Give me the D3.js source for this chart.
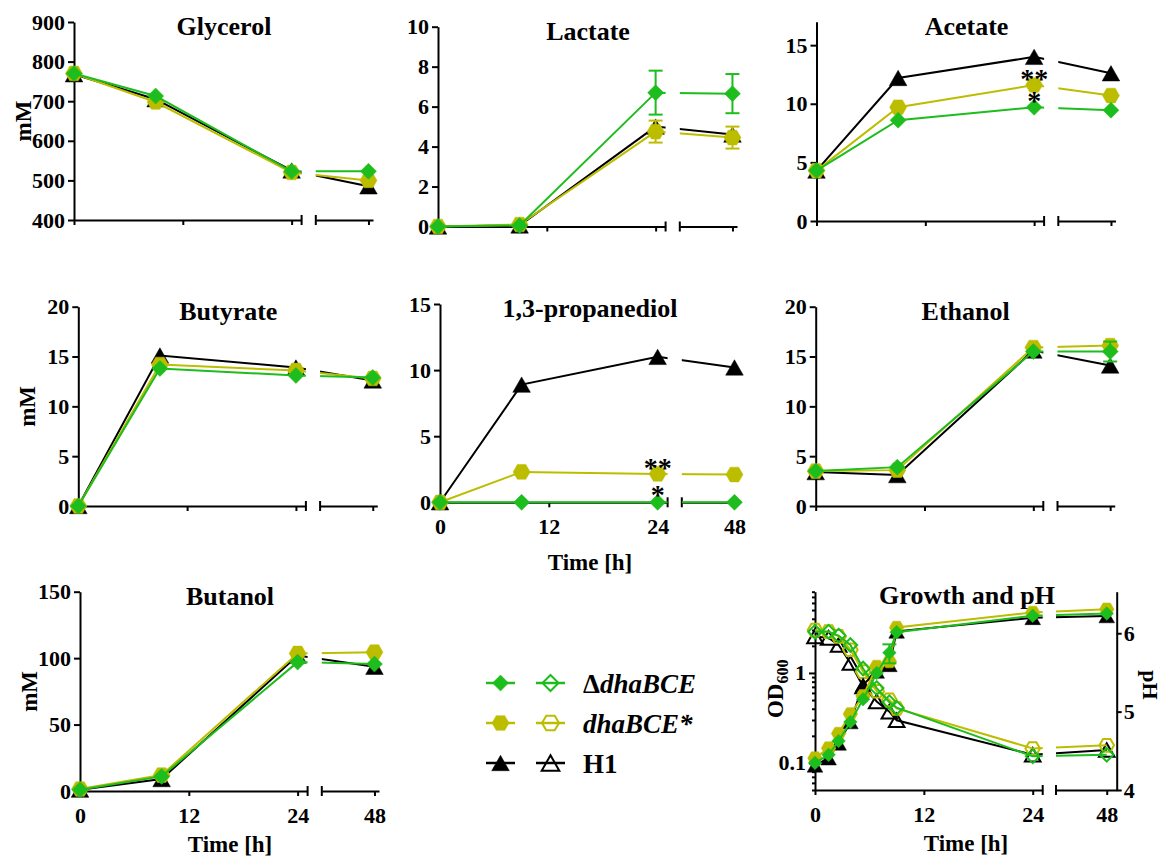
<!DOCTYPE html>
<html>
<head>
<meta charset="utf-8">
<script src="https://cdnjs.cloudflare.com/ajax/libs/d3/7.8.5/d3.min.js"></script>
<style>
body { margin: 0; background: #fff; }
svg text { font-family: "Liberation Serif", "Times New Roman", serif; font-weight: bold; fill: #000; }
.axis path, .axis line { stroke: #000; stroke-width: 2; }
</style>
</head>
<body>
<div id="chart"></div>
<script>
// sampling times [h]
var times = [0, 9, 24, 48];
var growthTimes = [0, 1.5, 2.6, 3.9, 5.3, 6.8, 8.2, 9, 24, 48];
var timeTicks = [0, 12, 24, 48];

// metabolites [mM]: H1, dhaBCE*, ΔdhaBCE
var glycerolH1 = [768, 705, 525, 485];
var glycerolStar = [770, 698, 520, 500];
var glycerolDelta = [770, 713, 523, 523];

var lactateH1 = [0, 0.05, 5.0, 4.6];
var lactateStar = [0, 0.1, 4.75, 4.45];
var lactateDelta = [0, 0.05, 6.7, 6.65];
var lactateStarErr = [0, 0, 0.55, 0.55];
var lactateDeltaErr = [0, 0, 1.1, 0.98];

var acetateH1 = [4.3, 12.2, 14.0, 12.6];
var acetateStar = [4.3, 9.7, 11.6, 10.7];
var acetateDelta = [4.3, 8.6, 9.7, 9.45];

var butyrateH1 = [0, 15.1, 13.9, 12.6];
var butyrateStar = [0, 14.2, 13.6, 12.8];
var butyrateDelta = [0, 13.8, 13.1, 12.9];

var pdoH1 = [0, 8.9, 11.0, 10.2];
var pdoStar = [0, 2.3, 2.15, 2.1];
var pdoDelta = [0, 0, 0, 0];

var ethanolH1 = [3.4, 3.1, 15.6, 14.1];
var ethanolStar = [3.5, 3.6, 15.9, 16.1];
var ethanolDelta = [3.5, 3.9, 15.5, 15.5];
var ethanolDeltaErr = [0, 0, 0, 1.0];

var butanolH1 = [1, 9, 102, 93.5];
var butanolStar = [1.5, 12, 103.5, 104.5];
var butanolDelta = [1, 11, 97, 95.5];

// growth (OD600) and pH
var odH1 = [0.094, 0.113, 0.165, 0.285, 0.74, 1.04, 1.23, 2.9, 4.1, 4.3];
var odStar = [0.113, 0.146, 0.212, 0.35, 0.556, 1.18, 1.34, 3.2, 4.7, 5.1];
var odDelta = [0.1, 0.123, 0.175, 0.285, 0.51, 1.0, 1.68, 2.84, 4.32, 4.58];
var odDeltaErr = [0, 0, 0, 0, 0, 0, 0.4, 0, 0, 0];
var phH1 = [5.96, 5.94, 5.85, 5.62, 5.32, 5.13, 5.0, 4.89, 4.45, 4.51];
var phStar = [6.04, 6.02, 5.96, 5.79, 5.51, 5.26, 5.15, 5.04, 4.53, 4.57];
var phDelta = [6.02, 6.02, 5.97, 5.85, 5.55, 5.3, 5.12, 5.05, 4.43, 4.45];

// tick values
var glycerolTicks = [400, 500, 600, 700, 800, 900];
var lactateTicks = [0, 2, 4, 6, 8, 10];
var acetateTicks = [0, 5, 10, 15];
var butyrateTicks = [0, 5, 10, 15, 20];
var pdoTicks = [0, 5, 10, 15];
var ethanolTicks = [0, 5, 10, 15, 20];
var butanolTicks = [0, 50, 100, 150];
var odTicks = [0.1, 1];
var odMinor = [0.05, 0.06, 0.07, 0.08, 0.09, 0.2, 0.3, 0.4, 0.5, 0.6, 0.7, 0.8, 0.9, 2, 3, 4, 5, 6, 7, 8];
var phTicks = [4, 5, 6];

var strains = [
  { name: "H1", color: "#000000", shape: "triangle" },
  { name: "dhaBCE*", color: "#bdbd00", shape: "hexagon" },
  { name: "ΔdhaBCE", color: "#1cbd1c", shape: "diamond" }
];

function shapePath(shape, r) {
  if (shape == "diamond") return "M0," + (-r) + "L" + r + ",0L0," + r + "L" + (-r) + ",0Z";
  if (shape == "hexagon") {
    var s = r * 0.866, hr = r / 2;
    return "M" + r + ",0L" + hr + "," + s + "L" + (-hr) + "," + s + "L" + (-r) + ",0L" + (-hr) + "," + (-s) + "L" + hr + "," + (-s) + "Z";
  }
  var h = r * 1.75;
  return "M0," + (-h / 2) + "L" + r + "," + (h / 2) + "L" + (-r) + "," + (h / 2) + "Z";
}
var markerSize = { diamond: 8, hexagon: 8.5, triangle: 8.8 };
var growthMarkerSize = { diamond: 6.8, hexagon: 7.3, triangle: 7.8 };

var svg = d3.select("#chart").append("svg").attr("width", 1164).attr("height", 856);

function styleAxis(ax) {
  ax.attr("font-family", null).attr("font-size", null);
  ax.selectAll("text").style("font-size", "22px");
}

var clipCount = 0;
function makeClip(g, x, h) {
  var r = x.range();
  var id = "clip" + (clipCount++);
  var cp = g.append("clipPath").attr("id", id);
  cp.append("rect").attr("x", -30).attr("y", -40).attr("width", r[1] + 30).attr("height", h + 80);
  cp.append("rect").attr("x", r[2]).attr("y", -40).attr("width", r[3] - r[2] + 30).attr("height", h + 80);
  return "url(#" + id + ")";
}

function drawXAxis(g, x, h, labels) {
  var d = x.domain(), r = x.range();
  var s1 = d3.scaleLinear().domain([d[0], d[1]]).range([r[0], r[1]]);
  var s2 = d3.scaleLinear().domain([d[2], d[3]]).range([r[2], r[3]]);
  [[s1, timeTicks.filter(function(t) { return t <= d[1]; })],
   [s2, timeTicks.filter(function(t) { return t >= d[2]; })]].forEach(function(s) {
    var ax = g.append("g").attr("class", "axis").attr("transform", "translate(0," + h + ")")
      .call(d3.axisBottom(s[0]).tickValues(s[1]).tickSize(5).tickSizeOuter(0).tickPadding(11)
        .tickFormat(labels ? d3.format("d") : function() { return ""; }));
    styleAxis(ax);
  });
  [r[1], r[2]].forEach(function(px) {
    g.append("line").attr("x1", px).attr("x2", px).attr("y1", h - 5).attr("y2", h + 5)
      .attr("stroke", "#000").attr("stroke-width", 2);
  });
}

function drawSeries(g, clip, x, y, ts, vals, errs, st, sizes, open) {
  var line = d3.line().x(function(d, i) { return x(ts[i]); }).y(function(d) { return y(d); });
  g.append("path").attr("d", line(vals)).attr("fill", "none").attr("stroke", st.color)
    .attr("stroke-width", 2).attr("clip-path", clip);
  if (errs) {
    vals.forEach(function(v, i) {
      if (!errs[i]) return;
      var cx = x(ts[i]), y1 = y(v - errs[i]), y2 = y(v + errs[i]);
      g.append("line").attr("x1", cx).attr("x2", cx).attr("y1", y1).attr("y2", y2).attr("stroke", st.color).attr("stroke-width", 2);
      [y1, y2].forEach(function(yy) {
        g.append("line").attr("x1", cx - 7).attr("x2", cx + 7).attr("y1", yy).attr("y2", yy).attr("stroke", st.color).attr("stroke-width", 2);
      });
    });
  }
  g.selectAll(null).data(vals).enter().append("path")
    .attr("transform", function(d, i) { return "translate(" + x(ts[i]) + "," + y(d) + ")"; })
    .attr("d", shapePath(st.shape, sizes[st.shape]))
    .attr("fill", open ? "none" : st.color)
    .attr("stroke", st.color).attr("stroke-width", open ? 2 : 0.5);
}

var metXDomain = [0, 25.1, 42.2, 48.5];
var metXRange = [0, 227.6, 241.8, 299];

var panels = [
  { title: "Glycerol", x: 74, top: 22, bottom: 220, domain: [400, 900], ticks: glycerolTicks,
    series: [glycerolH1, glycerolStar, glycerolDelta], errs: [null, null, null], mM: true },
  { title: "Lactate", x: 438, top: 26.7, bottom: 226.5, domain: [0, 10], ticks: lactateTicks,
    series: [lactateH1, lactateStar, lactateDelta], errs: [null, lactateStarErr, lactateDeltaErr] },
  { title: "Acetate", x: 816.5, top: 21.7, bottom: 221, domain: [0, 17], ticks: acetateTicks,
    series: [acetateH1, acetateStar, acetateDelta], errs: [null, null, null],
    stars: { t: 24, upper: 12.5, lower: 10.6 } },
  { title: "Butyrate", x: 78.3, top: 306.7, bottom: 506, domain: [0, 20], ticks: butyrateTicks,
    series: [butyrateH1, butyrateStar, butyrateDelta], errs: [null, null, null], mM: true },
  { title: "1,3-propanediol", x: 440, top: 304, bottom: 502.3, domain: [0, 15], ticks: pdoTicks,
    series: [pdoH1, pdoStar, pdoDelta], errs: [null, null, null], xlabels: true, timeOffset: 67.7,
    stars: { t: 24, upper: 2.93, lower: 0.86 } },
  { title: "Ethanol", x: 815.7, top: 306.7, bottom: 506, domain: [0, 20], ticks: ethanolTicks,
    series: [ethanolH1, ethanolStar, ethanolDelta], errs: [null, null, ethanolDeltaErr] },
  { title: "Butanol", x: 80, top: 591.7, bottom: 791, domain: [0, 150], ticks: butanolTicks,
    series: [butanolH1, butanolStar, butanolDelta], errs: [null, null, null], mM: true, xlabels: true, timeOffset: 61 }
];

panels.forEach(function(p) {
  var h = p.bottom - p.top;
  var g = svg.append("g").attr("transform", "translate(" + p.x + "," + p.top + ")");
  var x = d3.scaleLinear().domain(metXDomain).range(metXRange);
  var y = d3.scaleLinear().domain(p.domain).range([h, 0]);
  var clip = makeClip(g, x, h);

  drawXAxis(g, x, h, p.xlabels);
  var ay = g.append("g").attr("class", "axis")
    .call(d3.axisLeft(y).tickValues(p.ticks).tickSize(6).tickSizeOuter(0).tickPadding(3).tickFormat(d3.format("d")));
  styleAxis(ay);

  strains.forEach(function(st, i) {
    drawSeries(g, clip, x, y, times, p.series[i], p.errs[i], st, markerSize, false);
  });

  g.append("text").attr("x", 150).attr("y", 13).attr("text-anchor", "middle")
    .style("font-size", "26px").text(p.title);
  if (p.mM) {
    g.append("text").attr("transform", "translate(-43," + (h / 2) + ") rotate(-90)")
      .attr("text-anchor", "middle").style("font-size", "23px").text("mM");
  }
  if (p.xlabels) {
    g.append("text").attr("x", 150).attr("y", h + p.timeOffset).attr("text-anchor", "middle")
      .style("font-size", "23px").text("Time [h]");
  }
  if (p.stars) {
    var s = p.stars;
    var st = g.append("text").attr("text-anchor", "middle").style("font-size", "28px");
    st.append("tspan").attr("x", x(s.t)).attr("y", y(s.upper)).attr("dy", "0.47em").text("**");
    st.append("tspan").attr("x", x(s.t)).attr("y", y(s.lower)).attr("dy", "0.47em").text("*");
  }
});

// growth and pH panel
(function() {
  var top = 591.7, bottom = 790, h = bottom - top;
  var g = svg.append("g").attr("transform", "translate(815," + top + ")");
  var x = d3.scaleLinear().domain([0, 25.1, 42.4, 49.1]).range([0, 227.7, 241, 301.7]);
  var yOD = d3.scaleLog().domain([0.05, 8]).range([h, 0]);
  var yPH = d3.scaleLinear().domain([4, 6.53]).range([h, 0]);
  var clip = makeClip(g, x, h);

  drawXAxis(g, x, h, true);
  var al = g.append("g").attr("class", "axis")
    .call(d3.axisLeft(yOD).tickValues(odTicks).tickSize(6).tickSizeOuter(0).tickPadding(3).tickFormat(d3.format("")));
  styleAxis(al);
  g.append("g").attr("class", "axis")
    .call(d3.axisLeft(yOD).tickValues(odMinor).tickSize(3).tickSizeOuter(0).tickFormat(""))
    .select(".domain").remove();
  var ar = g.append("g").attr("class", "axis").attr("transform", "translate(301.7,0)")
    .call(d3.axisRight(yPH).tickValues(phTicks).tickSize(5).tickSizeOuter(0).tickPadding(2).tickFormat(d3.format("d")));
  styleAxis(ar);

  var phSeries = [phH1, phStar, phDelta];
  var odSeries = [odH1, odStar, odDelta];
  var odErrs = [null, null, odDeltaErr];
  strains.forEach(function(st, i) {
    drawSeries(g, clip, x, yPH, growthTimes, phSeries[i], null, st, growthMarkerSize, true);
  });
  strains.forEach(function(st, i) {
    drawSeries(g, clip, x, yOD, growthTimes, odSeries[i], odErrs[i], st, growthMarkerSize, false);
  });

  g.append("text").attr("x", 152).attr("y", 12.6).attr("text-anchor", "middle")
    .style("font-size", "26px").text("Growth and pH");
  var od = g.append("text").attr("transform", "translate(-32," + (h / 2 - 2) + ") rotate(-90)")
    .attr("text-anchor", "middle").style("font-size", "23px");
  od.append("tspan").text("OD");
  od.append("tspan").attr("dy", 5).style("font-size", "16px").text("600");
  g.append("text").attr("transform", "translate(328," + (h / 2 - 6) + ") rotate(90)")
    .attr("text-anchor", "middle").style("font-size", "22px").text("pH");
  g.append("text").attr("x", 151).attr("y", h + 61).attr("text-anchor", "middle")
    .style("font-size", "23px").text("Time [h]");
})();

// legend
(function() {
  var lg = svg.append("g").attr("transform", "translate(486,683)");
  var order = [2, 1, 0];
  order.forEach(function(si, row) {
    var st = strains[si], yy = row * 40;
    [0, 50].forEach(function(dx, k) {
      lg.append("line").attr("x1", dx).attr("x2", dx + 29).attr("y1", yy).attr("y2", yy)
        .attr("stroke", st.color).attr("stroke-width", 2.5);
      lg.append("path").attr("transform", "translate(" + (dx + 14.5) + "," + yy + ")")
        .attr("d", shapePath(st.shape, markerSize[st.shape]))
        .attr("fill", k ? "none" : st.color).attr("stroke", st.color).attr("stroke-width", k ? 2 : 0.5);
    });
    var t = lg.append("text").attr("x", 97).attr("y", yy + 10).style("font-size", "27px");
    if (si == 2) {
      t.append("tspan").text("Δ");
      t.append("tspan").style("font-style", "italic").text("dhaBCE");
    } else if (si == 1) {
      t.append("tspan").style("font-style", "italic").text("dhaBCE*");
    } else {
      t.text("H1");
    }
  });
})();
</script>
</body>
</html>
